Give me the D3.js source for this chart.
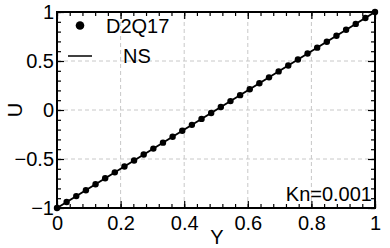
<!DOCTYPE html>
<html>
<head>
<meta charset="utf-8">
<script src="https://cdn.jsdelivr.net/npm/d3@7"></script>
<style>
  body { margin: 0; background: #fff; }
  svg { display: block; }
  text { font-family: "Liberation Sans", Arial, Helvetica, sans-serif; fill: #000; }
</style>
</head>
<body>
<figure id="chart" style="margin:0"></figure>
<script>
// D2Q17 points (Y, U)
const yPos = [0, 0.0303, 0.0606, 0.0909, 0.1212, 0.1515, 0.1818, 0.2121, 0.2424, 0.2727,
  0.3030, 0.3333, 0.3636, 0.3939, 0.4242, 0.4545, 0.4848, 0.5152, 0.5455, 0.5758,
  0.6061, 0.6364, 0.6667, 0.6970, 0.7273, 0.7576, 0.7879, 0.8182, 0.8485, 0.8788,
  0.9091, 0.9394, 0.9697, 1];
const uD2Q17 = [-1, -0.9394, -0.8788, -0.8182, -0.7576, -0.6970, -0.6364, -0.5758, -0.5152, -0.4545,
  -0.3939, -0.3333, -0.2727, -0.2121, -0.1515, -0.0909, -0.0303, 0.0303, 0.0909, 0.1515,
  0.2121, 0.2727, 0.3333, 0.3939, 0.4545, 0.5152, 0.5758, 0.6364, 0.6970, 0.7576,
  0.8182, 0.8788, 0.9394, 1];
// NS analytic line
const yNS = [0, 1];
const uNS = [-1, 1];

const xTicks = [0, 0.2, 0.4, 0.6, 0.8, 1];
const yTicks = [-1, -0.5, 0, 0.5, 1];
const seriesNames = ["D2Q17", "NS"];
const annotation = "Kn=0.001";

const width = 390, height = 248;
const margin = { top: 12, right: 15, bottom: 40, left: 57 };
const fontSize = 20;

const svg = d3.select("figure#chart")
  .append("svg")
  .attr("width", width)
  .attr("height", height);

const x = d3.scaleLinear().domain([0, 1]).range([margin.left, width - margin.right]);
const y = d3.scaleLinear().domain([-1, 1]).range([height - margin.bottom, margin.top]);

// grid
const grid = svg.append("g")
  .attr("stroke", "#c8c8c8")
  .attr("stroke-width", 1)
  .attr("stroke-dasharray", "4,3");
grid.selectAll(".gx")
  .data(xTicks.slice(1, -1))
  .enter().append("line")
  .attr("x1", d => x(d)).attr("x2", d => x(d))
  .attr("y1", y(-1)).attr("y2", y(1));
grid.selectAll(".gy")
  .data(yTicks.slice(1, -1))
  .enter().append("line")
  .attr("x1", x(0)).attr("x2", x(1))
  .attr("y1", d => y(d)).attr("y2", d => y(d));

const fmt = d3.format("");
const xMinor = d3.range(0, 1.0001, 0.04);
const yMinor = d3.range(-1, 1.0001, 0.1);

function styleAxis(g) {
  g.select(".domain").remove();
  g.selectAll("line").attr("stroke", "#000").attr("stroke-width", 1.2);
  g.selectAll("text").attr("font-size", fontSize).attr("fill", "#000").style("font-family", null);
}

// bottom
svg.append("g")
  .attr("transform", `translate(0,${y(-1)})`)
  .call(d3.axisBottom(x).tickValues(xMinor).tickSize(-4).tickFormat(""))
  .call(styleAxis);
svg.append("g")
  .attr("transform", `translate(0,${y(-1)})`)
  .call(d3.axisBottom(x).tickValues(xTicks).tickSize(-7).tickPadding(8).tickFormat(fmt))
  .call(styleAxis);
// top
svg.append("g")
  .attr("transform", `translate(0,${y(1)})`)
  .call(d3.axisTop(x).tickValues(xMinor).tickSize(-4).tickFormat(""))
  .call(styleAxis);
svg.append("g")
  .attr("transform", `translate(0,${y(1)})`)
  .call(d3.axisTop(x).tickValues(xTicks).tickSize(-7).tickFormat(""))
  .call(styleAxis);
// left
svg.append("g")
  .attr("transform", `translate(${x(0)},0)`)
  .call(d3.axisLeft(y).tickValues(yMinor).tickSize(-4).tickFormat(""))
  .call(styleAxis);
svg.append("g")
  .attr("transform", `translate(${x(0)},0)`)
  .call(d3.axisLeft(y).tickValues(yTicks).tickSize(-7).tickPadding(3).tickFormat(fmt))
  .call(styleAxis);
// right
svg.append("g")
  .attr("transform", `translate(${x(1)},0)`)
  .call(d3.axisRight(y).tickValues(yMinor).tickSize(-4).tickFormat(""))
  .call(styleAxis);
svg.append("g")
  .attr("transform", `translate(${x(1)},0)`)
  .call(d3.axisRight(y).tickValues(yTicks).tickSize(-7).tickFormat(""))
  .call(styleAxis);

// frame
svg.append("rect")
  .attr("x", x(0)).attr("y", y(1))
  .attr("width", x(1) - x(0)).attr("height", y(-1) - y(1))
  .attr("fill", "none").attr("stroke", "#000").attr("stroke-width", 2);

// NS line
svg.append("path")
  .datum(d3.zip(yNS, uNS))
  .attr("fill", "none")
  .attr("stroke", "#000")
  .attr("stroke-width", 2)
  .attr("d", d3.line().x(d => x(d[0])).y(d => y(d[1])));

// D2Q17 markers
svg.append("g")
  .selectAll("circle")
  .data(d3.zip(yPos, uD2Q17))
  .enter().append("circle")
  .attr("cx", d => x(d[0]))
  .attr("cy", d => y(d[1]))
  .attr("r", 3.2)
  .attr("fill", "#000");

// legend
const leg = svg.append("g");
leg.append("circle").attr("cx", 80).attr("cy", 25.5).attr("r", 4.3).attr("fill", "#000");
leg.append("text").attr("x", 106).attr("y", 32.5).attr("font-size", fontSize).text(seriesNames[0]);
leg.append("line").attr("x1", 68).attr("x2", 92).attr("y1", 56).attr("y2", 56)
  .attr("stroke", "#000").attr("stroke-width", 1.5);
leg.append("text").attr("x", 123).attr("y", 63).attr("font-size", fontSize).text(seriesNames[1]);

// annotation
svg.append("text")
  .attr("x", 372).attr("y", 201)
  .attr("text-anchor", "end")
  .attr("font-size", fontSize)
  .text(annotation);

// axis labels
svg.append("text")
  .attr("x", 217).attr("y", 244)
  .attr("text-anchor", "middle")
  .attr("font-size", fontSize)
  .text("Y");
svg.append("text")
  .attr("transform", "translate(22,110) rotate(-90)")
  .attr("text-anchor", "middle")
  .attr("font-size", fontSize)
  .text("U");
</script>
</body>
</html>
